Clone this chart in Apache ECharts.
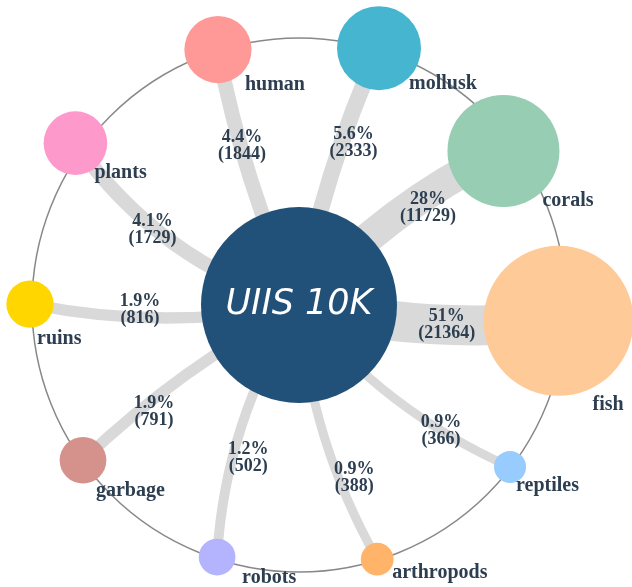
<!DOCTYPE html>
<html>
<head>
<meta charset="utf-8">
<script src="https://cdn.jsdelivr.net/npm/echarts@6/dist/echarts.min.js"></script>
<style>
html, body { margin: 0; padding: 0; background: #fff; }
#chart { width: 632px; height: 587px; }
</style>
</head>
<body>
<div id="chart"></div>
<script>
// data
const centerName = 'UIIS 10K';
const categories = ['fish', 'corals', 'mollusk', 'human', 'plants', 'ruins', 'garbage', 'robots', 'arthropods', 'reptiles'];
const counts = [21364, 11729, 2333, 1844, 1729, 816, 791, 502, 388, 366];

// look
const nodeColors = ['#fecb98', '#97cdb2', '#45b5d0', '#fe9998', '#fe99cc', '#ffd600', '#d5928c', '#b3b3fe', '#ffb46a', '#99ccfe'];
// layout: angle on the ring (deg) and distance from ring centre (px)
const nodeAngle = [-3.5, 37, 72.7, 107.6, 144.1, 179.8, 215.7, 252, 287.1, 322.5];
const nodeDist = [260, 256, 269, 268, 276, 269, 266, 265, 266, 266];
const edgeCurve = [-0.085, 0.1, 0.06, 0.06, 0.17, 0.1, -0.07, -0.13, -0.11, -0.12];
// edge label: fraction along the straight centre->node line, sideways shift (px)
const edgeLabelPlace = [[0.572, -10.9], [0.631, 0], [0.635, -4], [0.632, 6], [0.59, 25], [0.591, 5.6], [0.678, 2.4], [0.609, -1], [0.683, 2], [0.712, -13.4]];
const labelOffset = [[34, 84], [39, 50], [30, 36], [27, 35], [19, 30], [7, 35], [13, 31], [25, 21], [15, 14], [6, 19]];

const ringCx = 299, ringCy = 305, ringR = 267;
const centerRadius = 98;
const textColor = '#2c3e50';
const serif = '"Liberation Serif", "Times New Roman", serif';

const total = counts.reduce((a, b) => a + b, 0);
const minV = Math.min(...counts), maxV = Math.max(...counts);

// node radius scale (piecewise)
const radiusStops = [[366, 16], [800, 23.5], [1750, 32], [2333, 42], [11729, 56], [21364, 75]];
function nodeRadius(v) {
    for (let i = 1; i < radiusStops.length; i++) {
        const a = radiusStops[i - 1], b = radiusStops[i];
        if (v <= b[0]) return a[1] + (v - a[0]) / (b[0] - a[0]) * (b[1] - a[1]);
    }
    return radiusStops[radiusStops.length - 1][1];
}
// edge width, sqrt scale
function edgeWidth(v) {
    const t = (Math.sqrt(v) - Math.sqrt(minV)) / (Math.sqrt(maxV) - Math.sqrt(minV));
    return 9 + t * 31;
}
function pctText(v) {
    return parseFloat((v / total * 100).toFixed(1)) + '%';
}

const nodes = [{
    name: centerName,
    value: [0, 0],
    symbolSize: centerRadius * 2,
    itemStyle: { color: '#215078' },
    label: {
        show: true,
        position: 'inside',
        color: '#fff',
        fontSize: 35,
        fontStyle: 'italic',
        fontFamily: '"Comic Sans MS", "DejaVu Sans", sans-serif',
        formatter: '{b}'
    }
}];
const links = [];
const edgeLabels = [];

categories.forEach(function (name, i) {
    const a = nodeAngle[i] * Math.PI / 180;
    const d = nodeDist[i] / ringR;
    const x = d * Math.cos(a), y = d * Math.sin(a);
    const r = nodeRadius(counts[i]);
    nodes.push({
        name: name,
        value: [x, y],
        symbolSize: r * 2,
        itemStyle: { color: nodeColors[i] },
        label: {
            show: true,
            position: [r + labelOffset[i][0], r + labelOffset[i][1]],
            align: 'left',
            verticalAlign: 'middle',
            color: textColor,
            fontSize: 20,
            fontWeight: 'bold',
            fontFamily: serif,
            formatter: '{b}'
        }
    });
    links.push({
        source: centerName,
        target: name,
        lineStyle: { width: edgeWidth(counts[i]), curveness: edgeCurve[i] }
    });
    const s = edgeLabelPlace[i][0], off = edgeLabelPlace[i][1] / ringR;
    const ux = x / d, uy = y / d;
    edgeLabels.push({
        value: [s * x - uy * off, s * y + ux * off],
        label: { formatter: pctText(counts[i]) + '\n(' + counts[i] + ')' }
    });
});

const chart = echarts.init(document.getElementById('chart'));
chart.setOption({
    animation: false,
    backgroundColor: '#fff',
    grid: { left: ringCx - ringR, top: ringCy - ringR, width: ringR * 2, height: ringR * 2 },
    xAxis: { type: 'value', min: -1, max: 1, show: false },
    yAxis: { type: 'value', min: -1, max: 1, show: false },
    polar: { center: [ringCx, ringCy], radius: ringR },
    angleAxis: {
        type: 'value', min: 0, max: 360,
        axisLine: { show: true, lineStyle: { color: '#888', width: 1.5 } },
        axisTick: { show: false },
        axisLabel: { show: false },
        splitLine: { show: false }
    },
    radiusAxis: { show: false, min: 0, max: 1 },
    series: [
        {
            type: 'graph',
            coordinateSystem: 'cartesian2d',
            layout: 'none',
            z: 2,
            data: nodes,
            links: links,
            lineStyle: { color: '#d9d9d9', opacity: 1 },
            emphasis: { disabled: true }
        },
        {
            type: 'scatter',
            coordinateSystem: 'cartesian2d',
            z: 3,
            symbolSize: 0,
            data: edgeLabels,
            itemStyle: { opacity: 1 },
            emphasis: { disabled: true },
            label: {
                show: true,
                position: 'inside',
                color: textColor,
                opacity: 1,
                textBorderWidth: 0,
                fontSize: 18,
                lineHeight: 17,
                fontWeight: 'bold',
                fontFamily: serif
            }
        }
    ]
});
</script>
</body>
</html>
